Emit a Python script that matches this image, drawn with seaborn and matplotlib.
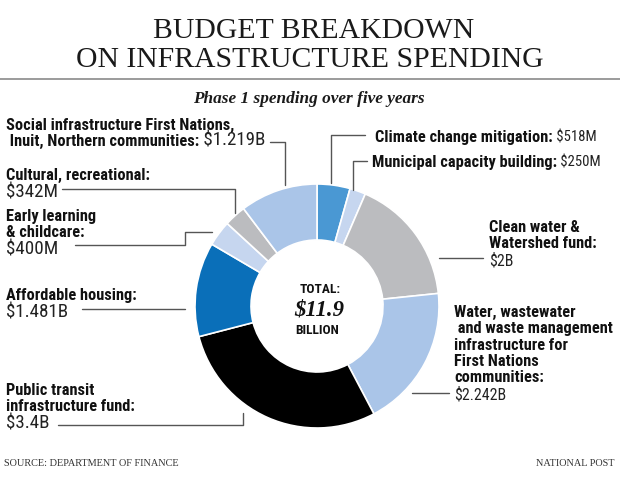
import matplotlib
matplotlib.use("Agg")
import matplotlib.pyplot as plt
from matplotlib import font_manager as fm
from matplotlib.font_manager import FontProperties
import seaborn as sns

# ---------------- data ----------------
categories = [
    "Climate change mitigation",
    "Municipal capacity building",
    "Clean water & Watershed fund",
    "Water, wastewater and waste management infrastructure for First Nations communities",
    "Public transit infrastructure fund",
    "Affordable housing",
    "Early learning & childcare",
    "Cultural, recreational",
    "Social infrastructure First Nations, Inuit, Northern communities",
]
values_billion = [0.518, 0.25, 2.0, 2.242, 3.4, 1.481, 0.4, 0.342, 1.219]
value_labels = ["$518M", "$250M", "$2B", "$2.242B", "$3.4B", "$1.481B", "$400M", "$342M", "$1.219B"]
label_lines = [
    ["Climate change mitigation:"],
    ["Municipal capacity building:"],
    ["Clean water &", "Watershed fund:"],
    ["Water, wastewater", " and waste management", "infrastructure for", "First Nations", "communities:"],
    ["Public transit", "infrastructure fund:"],
    ["Affordable housing:"],
    ["Early learning", "& childcare:"],
    ["Cultural, recreational:"],
    ["Social infrastructure First Nations,", " Inuit, Northern communities:"],
]
value_inline = [True, True, False, False, False, False, False, False, True]
slice_colors = ["#4a98d3", "#c6d6ef", "#bbbcbf", "#aac5e8", "#000000",
                "#0a6fb9", "#c6d6ef", "#bbbcbf", "#aac5e8"]

title_lines = ["BUDGET BREAKDOWN", "ON INFRASTRUCTURE SPENDING"]
subtitle = "Phase 1 spending over five years"
total_lines = ["TOTAL:", "$11.9", "BILLION"]
source = "SOURCE: DEPARTMENT OF FINANCE"
credit = "NATIONAL POST"

# ---------------- layout (pixels, top-left origin) ----------------
W, H = 620, 489
CX, CY, R_OUT, R_IN = 317, 307, 122, 66
LINE_H = 16.3
label_pos = [(375, 142), (372, 167), (489, 232), (454, 317), (6, 395),
             (6, 300), (6, 221), (6, 180), (6, 130)]
# value size group: 0 = right inline, 1 = right stand-alone, 2 = left side
value_group = [0, 0, 1, 1, 2, 2, 2, 2, 2]
leaders = [
    [(365, 136), (331, 136), (331, 184)],
    [(367, 162), (353, 162), (353, 191)],
    [(483, 259), (439, 259)],
    [(449, 394), (412, 394)],
    [(58, 426), (243, 426), (243, 414)],
    [(82, 310), (185, 310)],
    [(75, 246), (185, 246), (185, 233), (212, 233)],
    [(62, 190), (235, 190), (235, 214)],
    [(270, 143), (285, 143), (285, 186)],
]

def Y(py):
    return H - py

sns.set_theme(style="white")

_fonts = fm.fontManager.ttflist
_names = {f.name for f in _fonts}

def pick(*names):
    for n in names:
        if n in _names:
            return n
    return "DejaVu Sans"

COND = pick("Roboto Condensed", "Archivo Narrow", "Asap Condensed", "Barlow Semi Condensed",
            "Liberation Sans")
SERIF = pick("Liberation Serif", "DejaVu Serif")

fig = plt.figure(figsize=(W / 100, H / 100), dpi=100)
ax = fig.add_axes([0, 0, 1, 1])
renderer = fig.canvas.get_renderer()

def fit(s, target_px, family, weight="normal", style="normal"):
    fp = FontProperties(family=family, weight=weight, style=style, size=20)
    w, _, _ = renderer.get_text_width_height_descent(s, fp, ismath=False)
    return 20 * target_px / w

ax.pie(values_billion, colors=slice_colors, startangle=90, counterclock=False,
       center=(CX, Y(CY)), radius=R_OUT,
       wedgeprops=dict(width=R_OUT - R_IN, edgecolor="white", linewidth=1.2))
ax.set_xlim(0, W)
ax.set_ylim(0, H)
ax.set_aspect("auto")
ax.axis("off")

# title
t_fs = fit(title_lines[1], 468, SERIF)
ax.text(W / 2 + 4, Y(38), title_lines[0], ha="center", va="baseline",
        family=SERIF, fontsize=t_fs, color="#1a1a1a")
ax.text(W / 2, Y(67), title_lines[1], ha="center", va="baseline",
        family=SERIF, fontsize=t_fs, color="#1a1a1a")
ax.plot([0, W], [Y(80), Y(80)], color="#8a8a8a", lw=1.2)
s_fs = fit(subtitle, 232, SERIF, weight="bold", style="italic")
ax.text(309, Y(103), subtitle, ha="center", va="baseline",
        family=SERIF, style="italic", fontweight="bold", fontsize=s_fs, color="#1a1a1a")

# labels
LAB_FS = fit(label_lines[0][0], 176, COND, weight="bold")
VAL_FS = [fit(value_labels[0], 40, COND), fit(value_labels[3], 52, COND),
          fit(value_labels[7], 52, COND)]
for i, lines in enumerate(label_lines):
    x, b = label_pos[i]
    vfs = VAL_FS[value_group[i]]
    last = None
    for j, ln in enumerate(lines):
        last = ax.text(x, Y(b + j * LINE_H), ln, ha="left", va="baseline",
                       family=COND, fontweight="bold", fontsize=LAB_FS, color="#111111")
    if value_inline[i]:
        ax.annotate(" " + value_labels[i], xy=(1, 0), xycoords=last,
                    ha="left", va="bottom", family=COND, fontsize=vfs, color="#222222")
    else:
        ax.text(x, Y(b + len(lines) * LINE_H + 1), value_labels[i], ha="left", va="baseline",
                family=COND, fontsize=vfs, color="#222222")
    pts = leaders[i]
    ax.plot([p[0] for p in pts], [Y(p[1]) for p in pts], color="#555555", lw=1.0)

# centre total
c_fs = fit(total_lines[0], 41, COND, weight="bold")
ax.text(CX + 3, Y(293), total_lines[0], ha="center", va="baseline", family=COND,
        fontweight="bold", fontsize=c_fs, color="#111111")
d_fs = fit(total_lines[1], 50, SERIF, weight="bold", style="italic")
ax.text(CX + 2, Y(316), total_lines[1], ha="center", va="baseline", family=SERIF,
        fontweight="bold", style="italic", fontsize=d_fs, color="#111111")
ax.text(CX, Y(334), total_lines[2], ha="center", va="baseline", family=COND,
        fontweight="bold", fontsize=c_fs, color="#111111")

# footer
f_fs = fit(source, 177, SERIF)
ax.text(4, Y(466), source, ha="left", va="baseline", family=SERIF,
        fontsize=f_fs, color="#333333")
ax.text(615, Y(466), credit, ha="right", va="baseline", family=SERIF,
        fontsize=f_fs, color="#333333")

fig.savefig("out.png", dpi=100, facecolor="white")
